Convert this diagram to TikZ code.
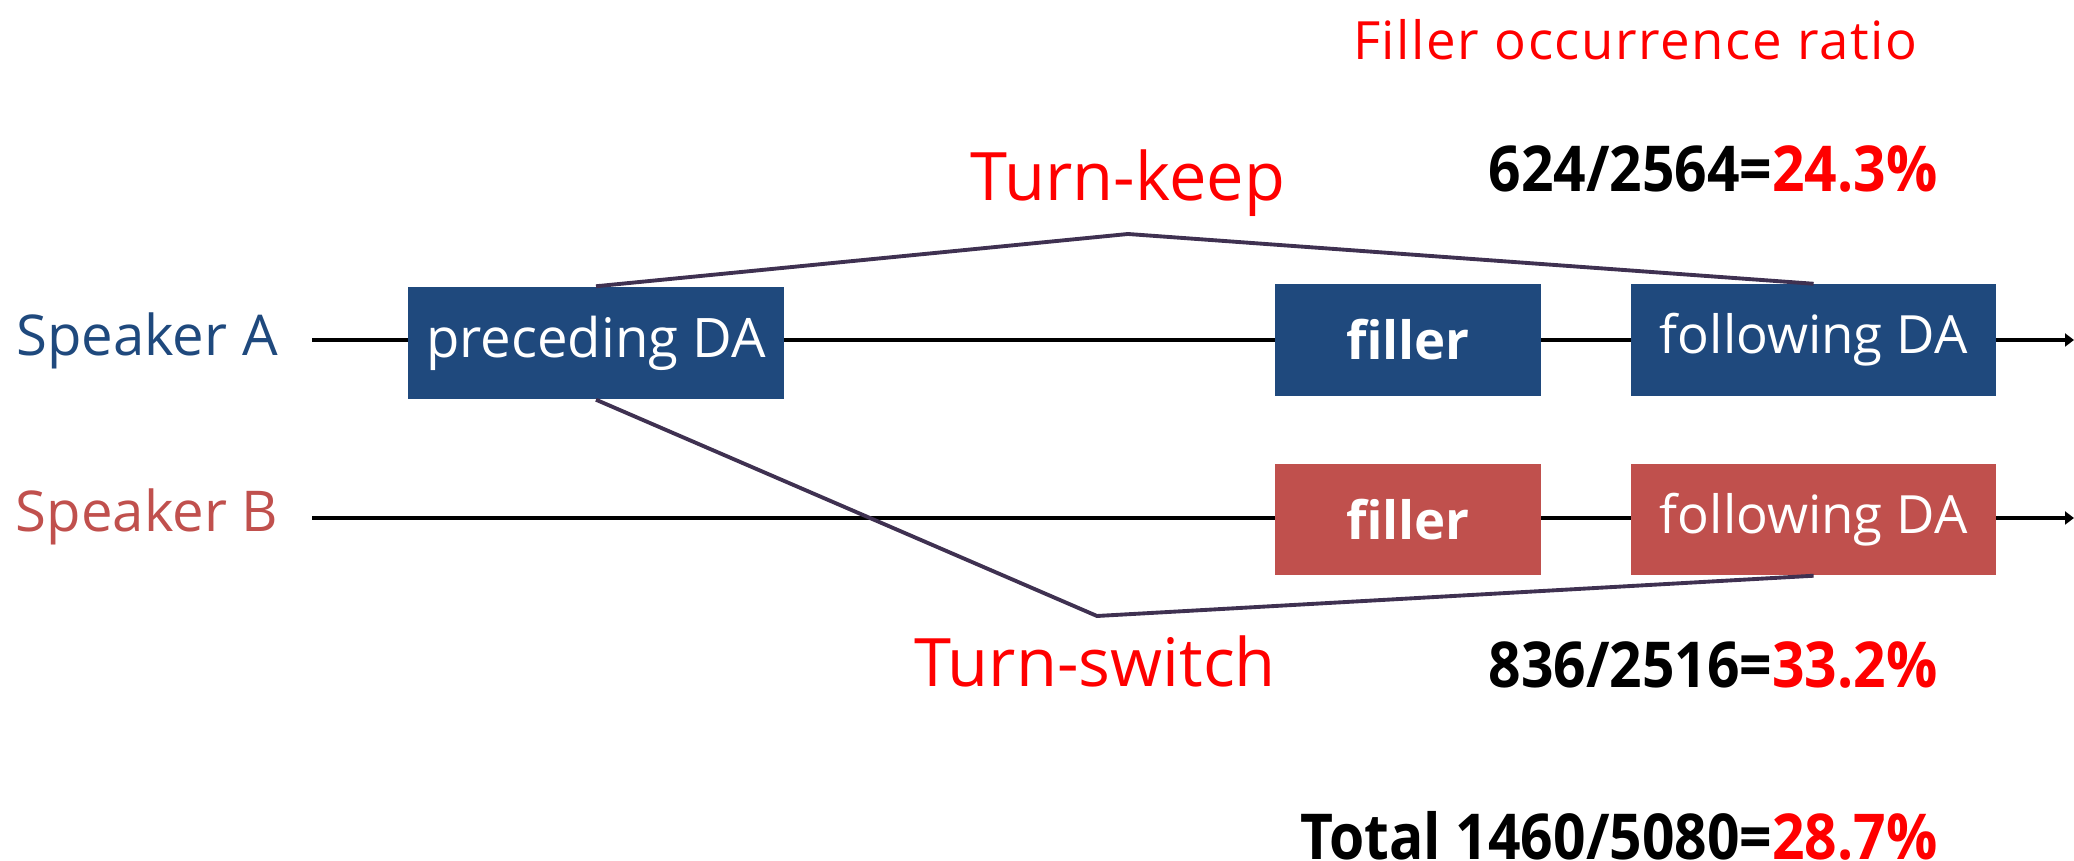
\documentclass[tikz,border=0pt]{standalone}
\usepackage{fontspec}
\setmainfont{Open Sans}
\newfontfamily\ratiofont{Open Sans}[FakeStretch=0.9]
\newfontfamily\headfont{Open Sans}[LetterSpace=3]
\usepackage{xcolor}
\usetikzlibrary{positioning, arrows.meta}

\definecolor{dablue}{HTML}{1F497D}
\definecolor{dared}{HTML}{C0504D}
\definecolor{turnpurple}{HTML}{3F3151}

\begin{document}
\begin{tikzpicture}[x=0.01cm, y=-0.01cm,
    timeline/.style={line width=1.1pt, -{Triangle[length=0.09cm, width=0.13cm]}},
    turn/.style={draw=turnpurple, line width=1.1pt},
    da/.style={text=white, inner sep=0pt, minimum height=1.11cm, font=\fontsize{15}{18}\selectfont},
    filler/.style={da, minimum width=2.65cm, font=\bfseries\fontsize{15}{18}\selectfont},
    speaker/.style={font=\fontsize{16}{19}\selectfont},
    turnlabel/.style={text=red, font=\fontsize{19}{22}\selectfont},
    ratio/.style={anchor=east, inner sep=0pt, font=\ratiofont\bfseries\fontsize{18}{21}\selectfont}]

    \useasboundingbox (0,0) rectangle (2074,861);

    % the two speakers' time lines
    \coordinate (aStart) at (312,340);
    \coordinate (aEnd) at (2074,340);
    \coordinate (bStart) at (312,518);
    \coordinate (bEnd) at (2074,518);
    \draw[timeline] (aStart) -- (aEnd);
    \draw[timeline] (bStart) -- (bEnd);

    \node[speaker, text=dablue] (spkA) at (147,341) {Speaker A};
    \node[speaker, text=dared] (spkB) at (147,517) {Speaker B};

    % dialogue acts and fillers
    \node[da, fill=dablue, minimum width=3.76cm, minimum height=1.12cm,
          font=\fontsize{15.5}{18}\selectfont] (pre) at (596,343) {preceding DA};
    \node[filler, fill=dablue] (fillA) at (1408,340) {filler};
    \node[da, fill=dablue, minimum width=3.65cm, right=0.89cm of fillA] (folA) {following DA};
    \node[filler, fill=dared, below=0.67cm of fillA] (fillB) {filler};
    \node[da, fill=dared, minimum width=3.65cm, below=0.67cm of folA] (folB) {following DA};

    % turn keep / turn switch
    \coordinate (keepTop) at (1128,234);
    \coordinate (switchBot) at (1097,616);
    \draw[turn] (pre.north) -- (keepTop) -- (folA.north);
    \draw[turn] (pre.south) -- (switchBot) -- (folB.south);
    \node[turnlabel] (keepLbl) at (1128,183) {Turn-keep};
    \node[turnlabel] (switchLbl) at (1095,661) {Turn-switch};

    % ratios
    \node[anchor=east, inner sep=0pt, text=red, font=\headfont\fontsize{15}{18}\selectfont] (head) at (1918,40) {Filler occurrence ratio};
    \node[ratio] (keepRatio) at (1938,169) {624/2564=\textcolor{red}{24.3\%}};
    \node[ratio] (switchRatio) at (1938,665) {836/2516=\textcolor{red}{33.2\%}};
    \node[ratio] (totalRatio) at (1938,836) {Total 1460/5080=\textcolor{red}{28.7\%}};

\end{tikzpicture}
\end{document}
